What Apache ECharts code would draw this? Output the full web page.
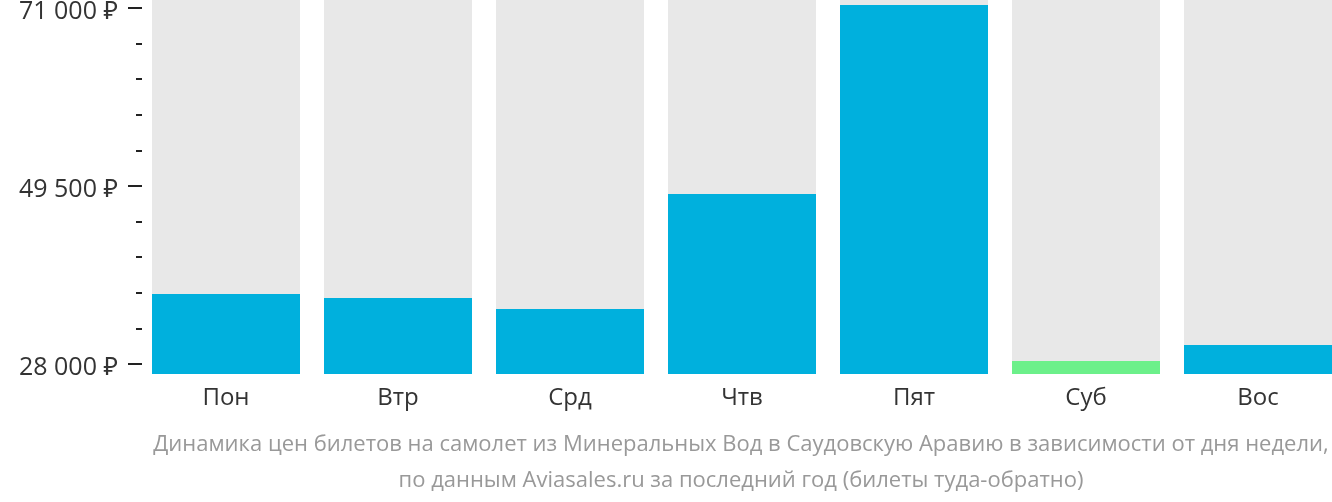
<!DOCTYPE html>
<html><head><meta charset="utf-8">
<script src="https://cdn.jsdelivr.net/npm/echarts@6/dist/echarts.min.js"></script>
<style>html,body{margin:0;padding:0;background:#fff;}#c{width:1332px;height:502px;}</style>
</head><body><div id="c"></div>
<script>
const categories = ['Пон', 'Втр', 'Срд', 'Чтв', 'Пят', 'Суб', 'Вос'];
const prices = [36450, 35970, 34640, 48540, 71370, 28360, 30300];
const cheapestIndex = 5;
const tickMin = 28000, tickMax = 71000, tickStep = 21500;
const titleLines = ['Динамика цен билетов на самолет из Минеральных Вод в Саудовскую Аравию в зависимости от дня недели,',
                    'по данным Aviasales.ru за последний год (билеты туда-обратно)'];

// px per value unit from tick spacing: ticks 28000->364px, 71000->8px
const pxTop = 8, pxBottom = 364, plotTop = 0, plotBottom = 374, labelShift = 4;
const upp = (tickMax - tickMin) / (pxBottom - pxTop);
const barMin = tickMin - (plotBottom - pxBottom) * upp;
const barMax = tickMax + (pxTop - plotTop) * upp;

const font = '"Open Sans", "Noto Sans", sans-serif';
const fmt = v => String(Math.round(v)).replace(/\B(?=(\d{3})+(?!\d))/g, ' ') + ' ₽';
const chart = echarts.init(document.getElementById('c'), null, {renderer: 'canvas'});
chart.setOption({
  animation: false,
  title: {
    text: titleLines.join('\n'),
    left: 736, top: 422, textAlign: 'center',
    textStyle: {color: '#999', fontSize: 22, fontWeight: 'normal', fontFamily: font, lineHeight: 36}
  },
  grid: [
    {left: 140, top: plotTop, width: 1204, height: plotBottom - plotTop, outerBoundsMode: 'none', containLabel: false},
    {left: 142, top: pxTop, width: 10, height: pxBottom - pxTop, outerBoundsMode: 'none', containLabel: false},
    {left: 142, top: pxTop + labelShift, width: 10, height: pxBottom - pxTop, outerBoundsMode: 'none', containLabel: false}
  ],
  xAxis: [
    {type: 'category', gridIndex: 0, data: categories,
     axisLine: {show: false}, axisTick: {show: false},
     axisLabel: {color: '#333', fontSize: 24, fontFamily: font, margin: 12}},
    {type: 'value', gridIndex: 1, show: false},
    {type: 'value', gridIndex: 2, show: false}
  ],
  yAxis: [
    {type: 'value', gridIndex: 0, min: barMin, max: barMax, show: false},
    {type: 'value', gridIndex: 1, min: tickMin, max: tickMax, interval: tickStep,
     axisLine: {show: false}, splitLine: {show: false}, axisLabel: {show: false},
     axisTick: {show: true, length: 14, lineStyle: {color: '#222', width: 2}},
     minorTick: {show: true, splitNumber: 5, length: 6, lineStyle: {color: '#222', width: 2}}},
    {type: 'value', gridIndex: 2, min: tickMin, max: tickMax, interval: tickStep,
     axisLine: {show: false}, splitLine: {show: false}, axisTick: {show: false},
     axisLabel: {color: '#333', fontSize: 25, fontFamily: font, margin: 24, formatter: fmt}}
  ],
  series: [{
    type: 'bar', xAxisIndex: 0, yAxisIndex: 0, barWidth: 148,
    showBackground: true, backgroundStyle: {color: '#e8e8e8'},
    data: prices.map((v, i) => ({value: v, itemStyle: {color: i === cheapestIndex ? '#6cf08a' : '#00b0dd'}}))
  }]
});
</script></body></html>
